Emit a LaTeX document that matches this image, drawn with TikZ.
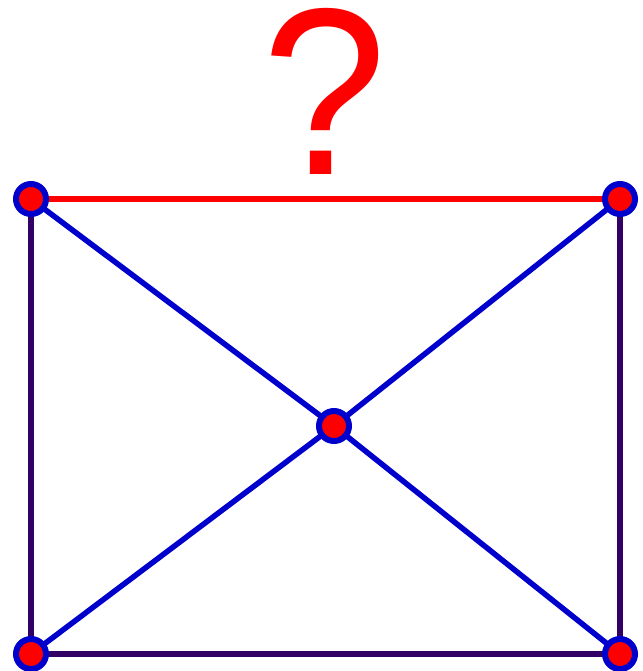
\documentclass[tikz,border=0pt]{standalone}
\usepackage{fontspec}
\setmainfont{Liberation Sans}
\definecolor{qred}{HTML}{FF0000}
\definecolor{eblue}{HTML}{0000CC}
\definecolor{epurple}{HTML}{330066}
\begin{document}
\begin{tikzpicture}[x=1pt,y=1pt,
  vtx/.style={circle,draw=eblue,fill=qred,line width=6pt,minimum size=30pt,inner sep=0pt},
  redge/.style={draw=qred,line width=5.5pt},
  bedge/.style={draw=eblue,line width=5.5pt},
  pedge/.style={draw=epurple,line width=5.5pt}]
\useasboundingbox (0,0) rectangle (642,-671);
\coordinate (tl) at (31,-199);
\coordinate (tr) at (620,-199);
\coordinate (c) at (334,-426);
\coordinate (bl) at (31,-654);
\coordinate (br) at (620,-654);
\draw[redge] (tl) -- (tr);
\draw[bedge] (tl) -- (c) -- (br);
\draw[bedge] (tr) -- (c) -- (bl);
\draw[pedge] (tl) -- (bl) -- (br) -- (tr);
\node[vtx] (ntl) at (tl) {};
\node[vtx] (ntr) at (tr) {};
\node[vtx] (nc) at (c) {};
\node[vtx] (nbl) at (bl) {};
\node[vtx] (nbr) at (br) {};
\node[anchor=base,inner sep=0pt,text=qred,xscale=0.94,font=\fontsize{238}{238}\selectfont] (q) at (324.5,-175) {?};
\end{tikzpicture}
\end{document}
